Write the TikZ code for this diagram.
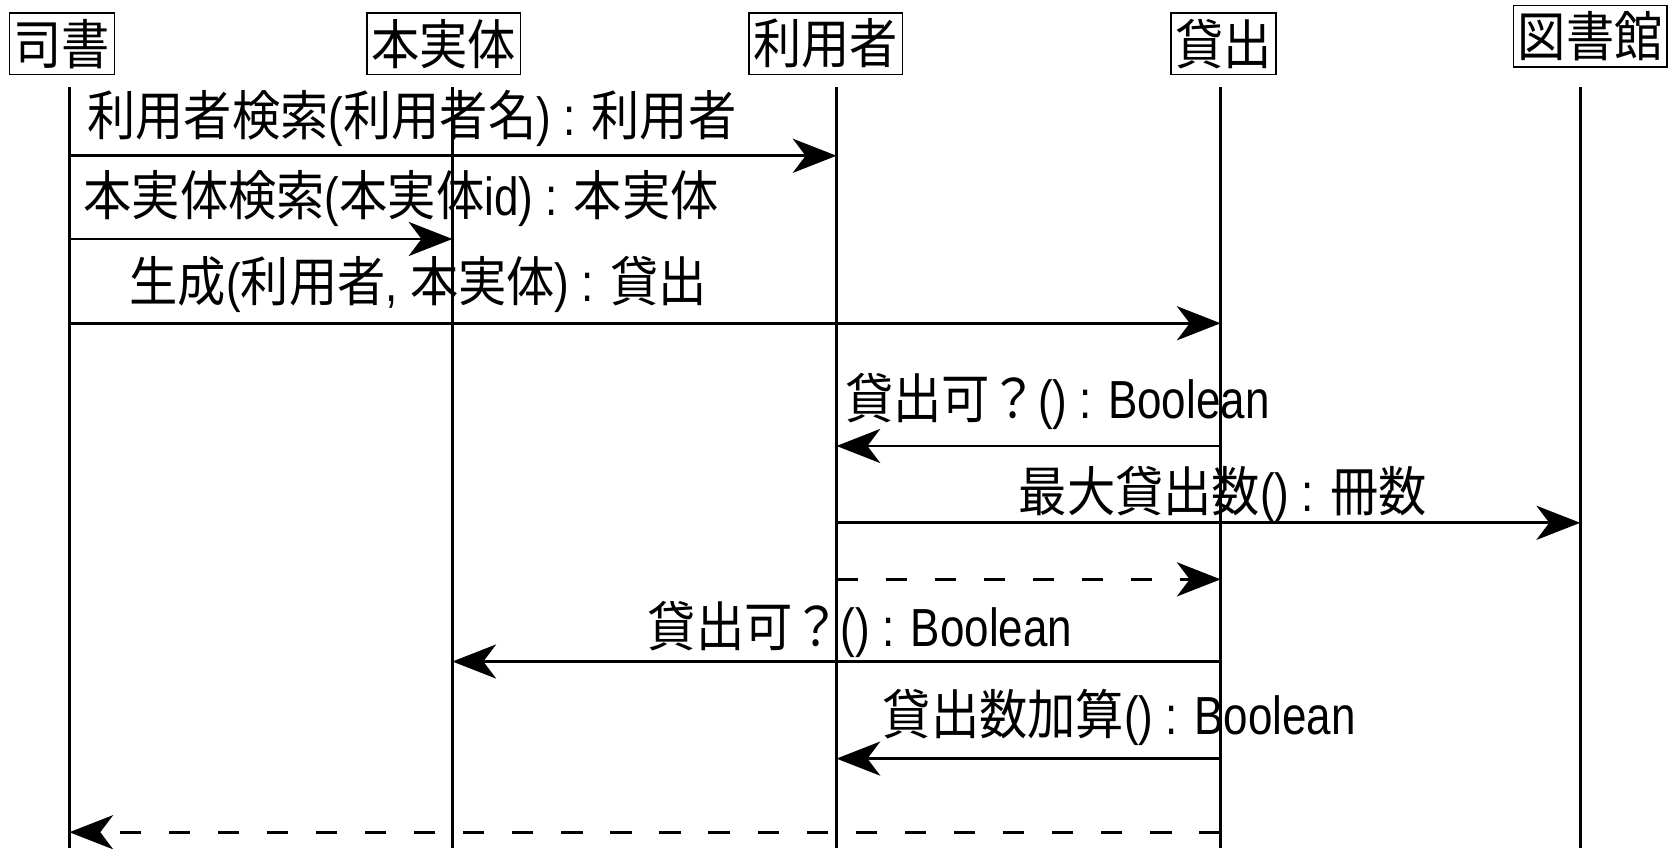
\documentclass[tikz,border=0pt]{standalone}
\usepackage{fontspec}
\setmainfont{Liberation Sans}[FakeStretch=0.82]
\newfontfamily\jp{Noto Sans CJK JP}[FakeStretch=0.9]
\usetikzlibrary{arrows.meta}

\newcommand{\J}[1]{{\jp #1}}
\newcommand{\fs}{\fontsize{14.3pt}{16pt}\selectfont}

\begin{document}
\begin{tikzpicture}[
    obj/.style={draw,thin,inner xsep=0.4mm,inner ysep=0pt,minimum height=5.8mm,font=\fs},
    lbl/.style={inner sep=0pt,font=\fs},
    msg/.style={line width=0.7pt,-{Stealth[length=4.1mm,width=3.2mm,inset=1.2mm]}},
    ret/.style={msg,dash pattern=on 2mm off 2.6mm}]

    \useasboundingbox (0,0) rectangle (15.68,-7.95);

    % objects
    \node[obj] (sisho) at (0.58,-0.41) {\J{司書}};
    \node[obj] (hon)   at (4.16,-0.41) {\J{本実体}};
    \node[obj] (riyo)  at (7.74,-0.41) {\J{利用者}};
    \node[obj] (kashi) at (11.465,-0.41) {\J{貸出}};
    \node[obj] (tosho) at (14.905,-0.34) {\J{図書館}};

    % lifelines
    \foreach \n/\x in {sisho/0.65,hon/4.24,riyo/7.84,kashi/11.44,tosho/14.81}
    { \coordinate (\n T) at (\x,-0.82); \coordinate (\n B) at (\x,-7.95);
      \draw[line width=0.7pt] (\n T) -- (\n B); }

    % calls
    \draw[msg] (sishoT |- 0,-1.46) -- (riyoT |- 0,-1.46);
    \draw[msg] (sishoT |- 0,-2.24) -- (honT |- 0,-2.24);
    \draw[msg] (sishoT |- 0,-3.03) -- (kashiT |- 0,-3.03);
    \draw[msg] (kashiT |- 0,-4.18) -- (riyoT |- 0,-4.18);
    \draw[msg] (riyoT |- 0,-4.90) -- (toshoT |- 0,-4.90);
    \draw[ret] (riyoT |- 0,-5.43) -- (kashiT |- 0,-5.43);
    \draw[msg] (kashiT |- 0,-6.20) -- (honT |- 0,-6.20);
    \draw[msg] (kashiT |- 0,-7.11) -- (riyoT |- 0,-7.11);
    \draw[ret] (kashiT |- 0,-7.80) -- (sishoT |- 0,-7.80);

    % labels
    \node[lbl] (l1) at (3.86,-1.11) {\J{利用者検索}(\J{利用者名}) : \J{利用者}};
    \node[lbl] (l2) at (3.76,-1.86) {\J{本実体検索}(\J{本実体}id) : \J{本実体}};
    \node[lbl] (l3) at (3.92,-2.67) {\J{生成}(\J{利用者}, \J{本実体}) : \J{貸出}};
    \node[lbl] (l4) at (9.91,-3.76) {\J{貸出可？}() : Boolean};
    \node[lbl] (l5) at (11.46,-4.63) {\J{最大貸出数}() : \J{冊数}};
    \node[lbl] (l7) at (8.06,-5.90) {\J{貸出可？}() : Boolean};
    \node[lbl] (l8) at (10.49,-6.72) {\J{貸出数加算}() : Boolean};
\end{tikzpicture}
\end{document}
